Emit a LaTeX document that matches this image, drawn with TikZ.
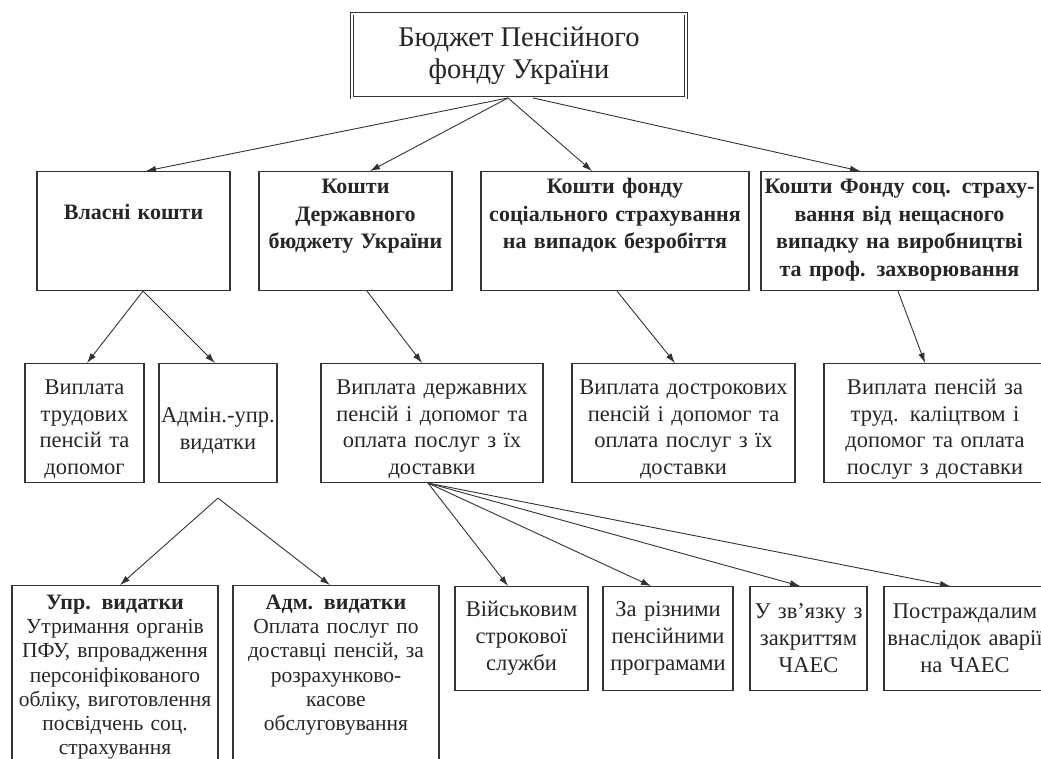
\documentclass[tikz,border=0pt]{standalone}
\usepackage{fontspec}
\setmainfont{Liberation Serif}
\usetikzlibrary{arrows.meta}
\tikzset{
        cbox/.style={draw=black!80, text=black!85, line width=1.1pt, align=center, inner xsep=2pt, inner ysep=0pt, anchor=north},
        headbox/.style={draw=black!80, text=black!85, double, double distance=2pt, line width=0.9pt, align=center, font=\fontsize{28.5}{32}\selectfont, minimum width=334pt, minimum height=84pt},
        fund/.style={cbox, font=\fontsize{22}{27.5}\selectfont\bfseries, text height=22pt, text depth=97pt},
        pay/.style={cbox, font=\fontsize{22.5}{26.5}\selectfont, text height=31pt, text depth=88pt},
        cost/.style={cbox, font=\fontsize{21.5}{24.2}\selectfont, text height=24pt, text depth=180pt},
        pgroup/.style={cbox, font=\fontsize{22.5}{27}\selectfont, minimum height=104pt},
        arr/.style={draw=black!80, line width=0.9pt, -{Latex[length=10pt,width=6.5pt]}}
}

\begin{document}
\begin{tikzpicture}[x=1pt,y=-1pt]
        \clip (0,0) rectangle (1041,758);
        \fill[white] (0,0) rectangle (1041,758);
        \node[headbox] (PFU) at (519,55.5) {Бюджет Пенсійного\\фонду України};
        \node[fund,text width=189pt,text height=48pt,text depth=71pt] (VK) at (133.5,171) {Власні кошти};
        \node[fund,text width=189pt] (DB) at (355.5,171) {Кошти\\Державного\\бюджету України};
        \node[fund,text width=264pt] (FB) at (615,171) {Кошти фонду\\соціального страхування\\на випадок безробіття};
        \node[fund,text width=273pt] (FN) at (899.5,171) {Кошти Фонду соц. страху-\\вання від нещасного\\випадку на виробництві\\та проф. захворювання};
        \node[pay,text width=115pt] (VTP) at (84.5,363) {Виплата\\трудових\\пенсій та\\допомог};
        \node[pay,text width=114pt,text height=59pt,text depth=60pt] (AUV) at (218,363) {Адмін.-упр.\\видатки};
        \node[pay,text width=218pt] (VDP) at (432,363) {Виплата державних\\пенсій і допомог та\\оплата послуг з їх\\доставки};
        \node[pay,text width=219pt] (VDR) at (683.5,363) {Виплата дострокових\\пенсій і допомог та\\оплата послуг з їх\\доставки};
        \node[pay,text width=218pt] (VPK) at (935,363) {Виплата пенсій за\\труд. каліцтвом і\\допомог та оплата\\послуг з доставки};
        \node[cost,text width=202pt] (UV) at (115,585) {{\fontsize{22}{24}\selectfont\bfseries Упр. видатки}\\Утримання органів\\ПФУ, впровадження\\персоніфікованого\\обліку, виготовлення\\посвідчень соц.\\страхування};
        \node[cost,text width=202pt] (AV) at (336,585) {{\fontsize{22}{24}\selectfont\bfseries Адм. видатки}\\Оплата послуг по\\доставці пенсій, за\\розрахунково-\\касове\\обслуговування};
        \node[pgroup,text width=129pt] (VS) at (521.5,586) {Військовим\\строкової\\служби};
        \node[pgroup,text width=126pt] (RP) at (668,586) {За різними\\пенсійними\\програмами};
        \node[pgroup,text width=113pt] (ZC) at (808.5,586) {У зв’язку з\\закриттям\\ЧАЕС};
        \node[pgroup,text width=158pt] (PC) at (965,586) {Постраждалим\\внаслідок аварії\\на ЧАЕС};
        \coordinate (SPLIT) at ([yshift=-15pt]AUV.south);
        \draw[arr] ([xshift=-11pt]PFU.south)--([xshift=12.5pt]VK.north);
        \draw[arr] ([xshift=-11pt]PFU.south)--([xshift=14.5pt]DB.north);
        \draw[arr] ([xshift=-11pt]PFU.south)--([xshift=-23pt]FB.north);
        \draw[arr] ([xshift=14pt]PFU.south)--([xshift=-39.5pt]FN.north);
        \draw[arr] ([xshift=9.5pt]VK.south)--([xshift=2.5pt]VTP.north);
        \draw[arr] ([xshift=9.5pt]VK.south)--([xshift=-3pt]AUV.north);
        \draw[arr] ([xshift=11.5pt]DB.south)--([xshift=-10pt]VDP.north);
        \draw[arr] ([xshift=2pt]FB.south)--([xshift=-8.5pt]VDR.north);
        \draw[arr] ([xshift=-1.5pt]FN.south)--([xshift=-10pt]VPK.north);
        \draw[arr] (SPLIT)--([xshift=5pt]UV.north);
        \draw[arr] (SPLIT)--([xshift=-6pt]AV.north);
        \draw[arr] ([xshift=-4pt]VDP.south)--([xshift=-13.5pt]VS.north);
        \draw[arr] ([xshift=-4pt]VDP.south)--([xshift=-17pt]RP.north);
        \draw[arr] ([xshift=-4pt]VDP.south)--([xshift=-8.5pt]ZC.north);
        \draw[arr] ([xshift=-4pt]VDP.south)--([xshift=-15pt]PC.north);
\end{tikzpicture}
\end{document}
